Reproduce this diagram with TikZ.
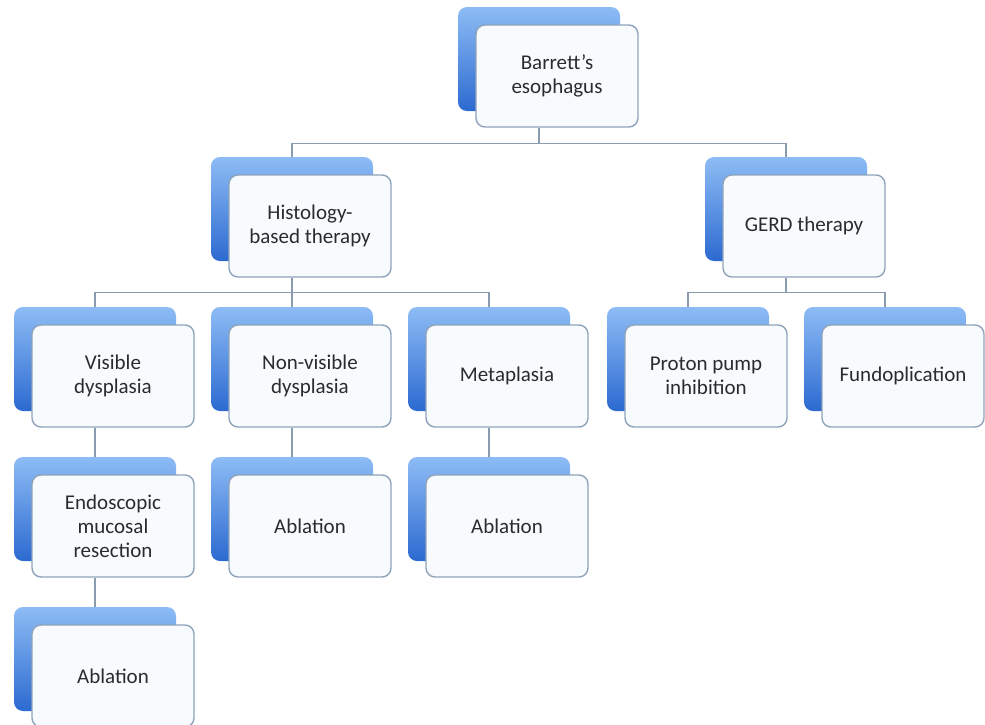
\documentclass[tikz,border=0pt]{standalone}
\usepackage{fontspec}
\setmainfont{Carlito}
\usetikzlibrary{positioning}
\definecolor{boxline}{HTML}{8FA3BA}
\definecolor{linkline}{HTML}{8A9BB0}
\definecolor{backtop}{HTML}{8DBCF5}
\definecolor{backbot}{HTML}{2C6AD0}
\definecolor{frontfill}{HTML}{F8FBFE}
\definecolor{labeltext}{HTML}{2B2B2B}

\begin{document}
\begin{tikzpicture}[x=1pt, y=-1pt, font=\fontsize{21}{24}\selectfont,
  backbox/.style={rounded corners=9pt, minimum width=162pt, minimum height=104pt, top color=backtop, bottom color=backbot, draw=none},
  frontbox/.style={draw=boxline, line width=1.4pt, rounded corners=9pt, fill=frontfill, minimum width=162pt, minimum height=102pt, align=center, text=labeltext, inner sep=2pt},
  link/.style={draw=linkline, line width=1.3pt}]
  \useasboundingbox (0,0) rectangle (985,724);
  \clip (0,0) rectangle (985,724);
  % root
  \node[backbox] (bar-b) at (539,59) {};
  \node[frontbox] (bar) at (557,76) {Barrett’s\\esophagus};
  % second row
  \node[backbox] (his-b) at (292,209) {};
  \node[frontbox] (his) at (310,226) {Histology-\\based therapy};
  \node[backbox] (gerd-b) at (786,209) {};
  \node[frontbox] (gerd) at (804,226) {GERD therapy};
  % third row
  \node[backbox] (vis-b) at (95,359) {};
  \node[frontbox] (vis) at (113,376) {Visible\\dysplasia};
  \node[backbox] (nvis-b) at (292,359) {};
  \node[frontbox] (nvis) at (310,376) {Non-visible\\dysplasia};
  \node[backbox] (meta-b) at (489,359) {};
  \node[frontbox] (meta) at (507,376) {Metaplasia};
  \node[backbox] (ppi-b) at (688,359) {};
  \node[frontbox] (ppi) at (706,376) {Proton pump\\inhibition};
  \node[backbox] (fund-b) at (885,359) {};
  \node[frontbox] (fund) at (903,376) {Fundoplication};
  % fourth row
  \node[backbox] (emr-b) at (95,509) {};
  \node[frontbox] (emr) at (113,526) {Endoscopic\\mucosal\\resection};
  \node[backbox] (ablnv-b) at (292,509) {};
  \node[frontbox] (ablnv) at (310,526) {Ablation};
  \node[backbox] (ablme-b) at (489,509) {};
  \node[frontbox] (ablme) at (507,526) {Ablation};
  % fifth row
  \node[backbox] (ablvis-b) at (95,659) {};
  \node[frontbox] (ablvis) at (113,676) {Ablation};
  % connectors
  \draw[link] (bar-b |- bar.south) -- ++(0,16) -| (his-b.north);
  \draw[link] (bar-b |- bar.south) -- ++(0,16) -| (gerd-b.north);
  \draw[link] (his-b |- his.south) -- ++(0,15) -| (vis-b.north);
  \draw[link] (his-b |- his.south) -- (nvis-b.north);
  \draw[link] (his-b |- his.south) -- ++(0,15) -| (meta-b.north);
  \draw[link] (gerd-b |- gerd.south) -- ++(0,15) -| (ppi-b.north);
  \draw[link] (gerd-b |- gerd.south) -- ++(0,15) -| (fund-b.north);
  \draw[link] (vis-b |- vis.south) -- (emr-b.north);
  \draw[link] (nvis-b |- nvis.south) -- (ablnv-b.north);
  \draw[link] (meta-b |- meta.south) -- (ablme-b.north);
  \draw[link] (emr-b |- emr.south) -- (ablvis-b.north);
\end{tikzpicture}
\end{document}
